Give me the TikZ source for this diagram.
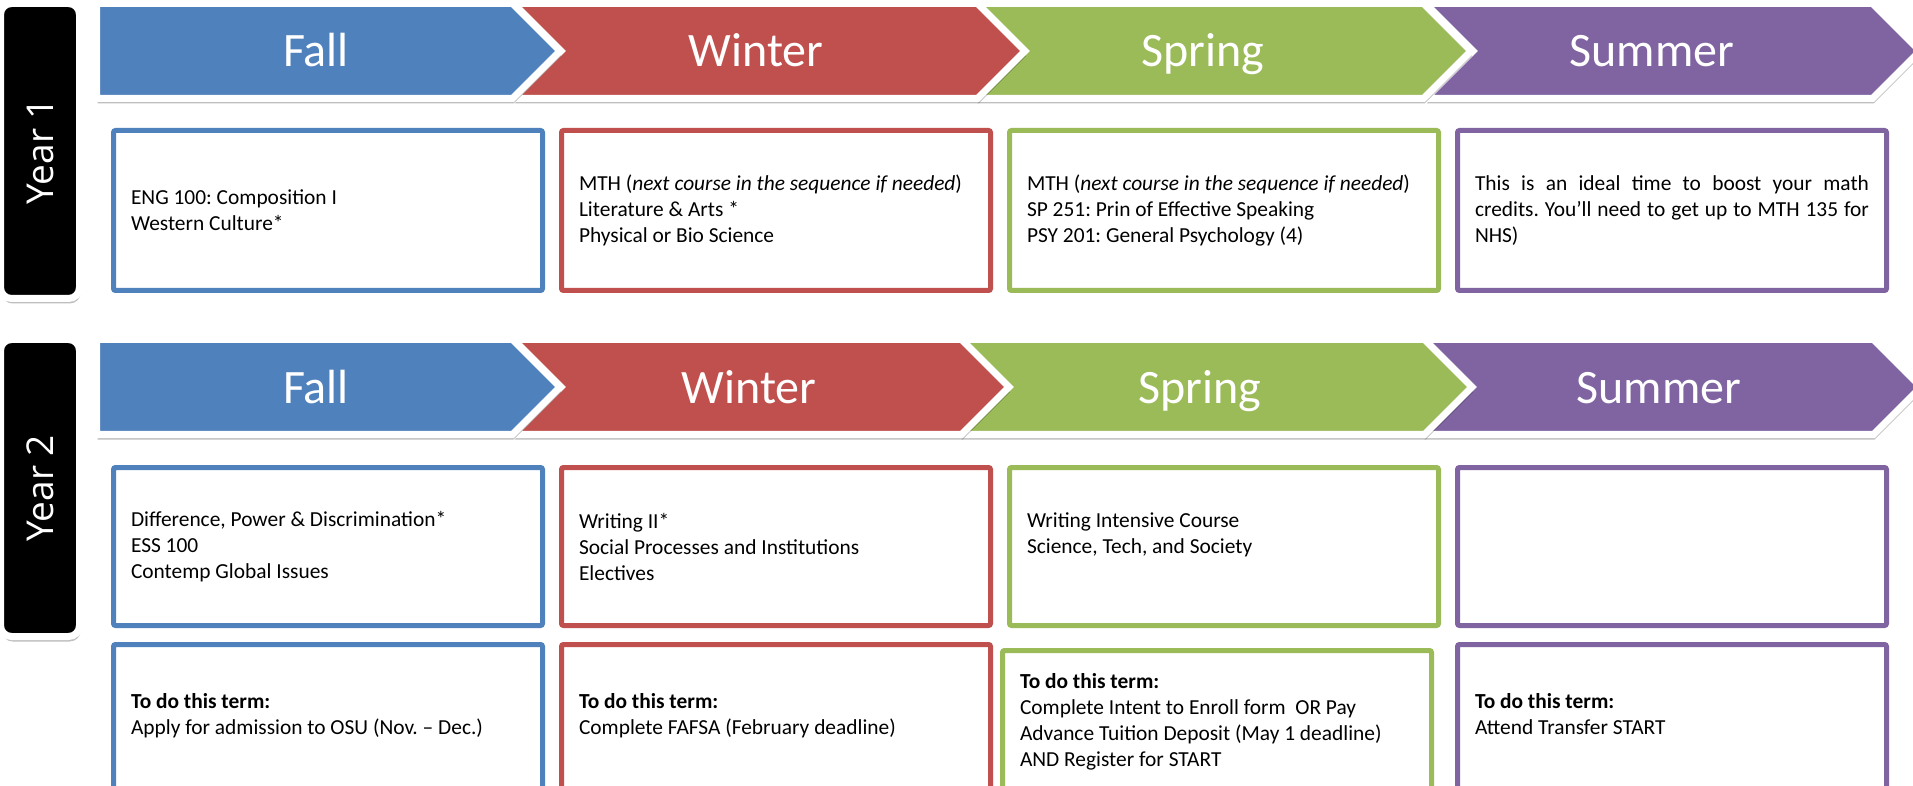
\documentclass[tikz,border=0pt]{standalone}
\usepackage{fontspec}
\setmainfont{Carlito}
\newfontfamily\yearfont{Open Sans}
\usetikzlibrary{shadows, positioning}
\usepackage{xcolor}

\definecolor{fallblue}{HTML}{4F81BD}
\definecolor{winterred}{HTML}{C0504D}
\definecolor{springgreen}{HTML}{9BBB59}
\definecolor{summerpurple}{HTML}{8064A2}

\begin{document}
\begin{tikzpicture}[
    x=0.5pt, y=-0.5pt,
    node distance=7pt,
    castshadow/.style={drop shadow={shadow xshift=0.6pt, shadow yshift=-2.5pt, opacity=0.25, fill=black}},
    chevron/.style={draw=white, line width=3.5pt, line join=miter, castshadow},
    season/.style={text=white, anchor=base, font=\fontsize{24}{28}\selectfont},
    yearbox/.style={draw=white, line width=3.5pt, fill=black, rounded corners=5.5pt, minimum width=39.5pt, minimum height=147.5pt, castshadow},
    yeartext/.style={text=white, rotate=90, font=\yearfont\fontsize{18.5}{22}\selectfont},
    course/.style={draw, line width=2.5pt, rounded corners=1pt, fill=white, minimum width=214.5pt, minimum height=80pt, text width=197pt, inner xsep=8.75pt, align=flush left, font=\fontsize{10.7}{13}\selectfont\frenchspacing},
    todo/.style={course, minimum height=75pt}
]
\useasboundingbox (0,0) rectangle (1913,786);

% Year labels
\node[yearbox] (year1) at (40,151) {};
\node[yeartext] (year1label) at (year1) {Year 1};
\node[yearbox, minimum height=148.5pt] (year2) at (40,488) {};
\node[yeartext] (year2label) at (year2) {Year 2};

% Year 1 chevrons (right to left so the white edges stay on top)
\draw[chevron, fill=summerpurple] (1425.5,3.5) -- (1872.5,3.5) -- (1920,51) -- (1872.5,98.5) -- (1425.5,98.5) -- (1473,51) -- cycle;
\draw[chevron, fill=springgreen] (976.5,3.5) -- (1423.5,3.5) -- (1471,51) -- (1423.5,98.5) -- (976.5,98.5) -- (1024,51) -- cycle;
\draw[chevron, fill=winterred] (513.5,3.5) -- (977.5,3.5) -- (1025,51) -- (977.5,98.5) -- (513.5,98.5) -- (561,51) -- cycle;
\draw[chevron, fill=fallblue] (96.5,3.5) -- (512.5,3.5) -- (560,51) -- (512.5,98.5) -- (96.5,98.5) -- cycle;

\node[season] (fall1) at (316,67) {Fall};
\node[season] (winter1) at (756,67) {Winter};
\node[season] (spring1) at (1203,67) {Spring};
\node[season] (summer1) at (1652,67) {Summer};

% Year 2 chevrons
\draw[chevron, fill=summerpurple] (1423.5,339.5) -- (1873.5,339.5) -- (1921,387) -- (1873.5,434.5) -- (1423.5,434.5) -- (1471,387) -- cycle;
\draw[chevron, fill=springgreen] (960.5,339.5) -- (1424.5,339.5) -- (1472,387) -- (1424.5,434.5) -- (960.5,434.5) -- (1008,387) -- cycle;
\draw[chevron, fill=winterred] (513.5,339.5) -- (961.5,339.5) -- (1009,387) -- (961.5,434.5) -- (513.5,434.5) -- (561,387) -- cycle;
\draw[chevron, fill=fallblue] (96.5,339.5) -- (512.5,339.5) -- (560,387) -- (512.5,434.5) -- (96.5,434.5) -- cycle;

\node[season] (fall2) at (316,403) {Fall};
\node[season] (winter2) at (749,403) {Winter};
\node[season] (spring2) at (1200,403) {Spring};
\node[season] (summer2) at (1659,403) {Summer};

% Year 1 courses
\node[course, draw=fallblue] (fall1box) at (328,210.5) {ENG 100: Composition I\\Western Culture*};
\node[course, draw=winterred, right=of fall1box] (winter1box) {MTH (\textit{next course in the sequence if needed})\\Literature \& Arts *\\Physical or Bio Science};
\node[course, draw=springgreen, right=of winter1box] (spring1box) {MTH (\textit{next course in the sequence if needed})\\SP 251: Prin of Effective Speaking\\PSY 201: General Psychology (4)};
\node[course, draw=summerpurple, right=of spring1box] (summer1box) {\makebox[197pt][s]{This is an ideal time to boost your math}\\\makebox[197pt][s]{credits. You’ll need to get up to MTH 135 for}\\NHS)};

% Year 2 courses
\node[course, draw=fallblue, minimum height=79pt] (fall2box) at (328,546.5) {Difference, Power \& Discrimination*\\ESS 100\\Contemp Global Issues};
\node[course, draw=winterred, minimum height=79pt, right=of fall2box] (winter2box) {Writing II*\\Social Processes and Institutions\\Electives};
\node[course, draw=springgreen, minimum height=79pt, right=of winter2box] (spring2box) {Writing Intensive Course\\Science, Tech, and Society\\\mbox{}};
\node[course, draw=summerpurple, minimum height=79pt, right=of spring2box] (summer2box) {};

% To do boxes
\node[todo, draw=fallblue, below=of fall2box] (fall3box) {\textbf{To do this term:}\\Apply for admission to OSU (Nov. -- Dec.)\rule[-6pt]{0pt}{1pt}};
\node[todo, draw=winterred, below=of winter2box] (winter3box) {\textbf{To do this term:}\\Complete FAFSA (February deadline)\rule[-6pt]{0pt}{1pt}};
\node[todo, draw=springgreen, below=of spring2box, xshift=-3.5pt, yshift=-3pt] (spring3box) {\textbf{To do this term:}\\Complete Intent to Enroll form\ \ OR Pay\\Advance Tuition Deposit (May 1 deadline)\\AND Register for START\rule[-6pt]{0pt}{1pt}};
\node[todo, draw=summerpurple, below=of summer2box] (summer3box) {\textbf{To do this term:}\\Attend Transfer START\rule[-6pt]{0pt}{1pt}};

\end{tikzpicture}
\end{document}
